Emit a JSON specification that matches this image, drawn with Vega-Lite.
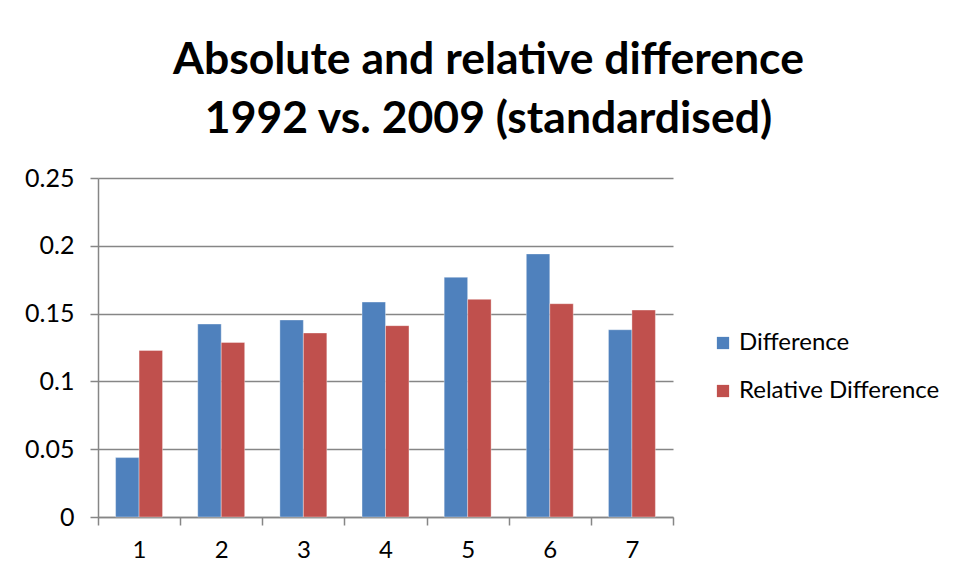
{
  "$schema": "https://vega.github.io/schema/vega-lite/v6.json",
  "width": 575,
  "height": 339,
  "autosize": {"type": "none"},
  "padding": {"left": 98, "top": 178, "right": 286, "bottom": 62},
  "background": "white",
  "title": {
    "text": ["Absolute and relative difference", "1992 vs. 2009 (standardised)"],
    "font": "Lato",
    "fontSize": 44.5,
    "fontWeight": "bold",
    "lineHeight": 59,
    "color": "black",
    "anchor": "middle",
    "dx": 103,
    "offset": 24
  },
  "data": {
    "values": [
      {"cat": "1", "series": "Difference", "value": 0.0438},
      {"cat": "1", "series": "Relative Difference", "value": 0.1228},
      {"cat": "2", "series": "Difference", "value": 0.1423},
      {"cat": "2", "series": "Relative Difference", "value": 0.1287},
      {"cat": "3", "series": "Difference", "value": 0.1453},
      {"cat": "3", "series": "Relative Difference", "value": 0.1357},
      {"cat": "4", "series": "Difference", "value": 0.1585},
      {"cat": "4", "series": "Relative Difference", "value": 0.1411},
      {"cat": "5", "series": "Difference", "value": 0.1768},
      {"cat": "5", "series": "Relative Difference", "value": 0.1605},
      {"cat": "6", "series": "Difference", "value": 0.194},
      {"cat": "6", "series": "Relative Difference", "value": 0.1573},
      {"cat": "7", "series": "Difference", "value": 0.1381},
      {"cat": "7", "series": "Relative Difference", "value": 0.1526}
    ]
  },
  "mark": {"type": "bar", "stroke": "white", "strokeOpacity": 0.35, "strokeWidth": 1},
  "encoding": {
    "x": {
      "field": "cat",
      "type": "nominal",
      "scale": {"paddingInner": 0, "paddingOuter": 0},
      "axis": {
        "title": null,
        "labelAngle": 0,
        "labelFont": "Lato",
        "labelFontSize": 24,
        "labelColor": "black",
        "labelPadding": 13,
        "tickBand": "extent",
        "tickSize": 8,
        "tickColor": "#868686",
        "domainColor": "#868686",
        "tickWidth": 1.5,
        "domainWidth": 1.5,
        "grid": false
      }
    },
    "xOffset": {
      "field": "series",
      "type": "nominal",
      "scale": {"paddingInner": 0, "paddingOuter": 0.75}
    },
    "y": {
      "field": "value",
      "type": "quantitative",
      "scale": {"domain": [0, 0.25], "nice": false},
      "axis": {
        "title": null,
        "values": [0, 0.05, 0.1, 0.15, 0.2, 0.25],
        "format": "~g",
        "labelFont": "Lato",
        "labelFontSize": 25,
        "labelColor": "black",
        "labelPadding": 16,
        "tickSize": 8,
        "tickColor": "#868686",
        "domainColor": "#868686",
        "gridColor": "#868686",
        "tickWidth": 1.5,
        "domainWidth": 1.5,
        "gridWidth": 1.5,
        "grid": true
      }
    },
    "color": {
      "field": "series",
      "type": "nominal",
      "scale": {"domain": ["Difference", "Relative Difference"], "range": ["#4F81BD", "#C0504D"]},
      "legend": {
        "title": null,
        "orient": "none",
        "legendX": 613,
        "legendY": 153,
        "symbolType": "square",
        "symbolSize": 150,
        "symbolStrokeWidth": 0,
        "labelFont": "Lato",
        "labelFontSize": 24,
        "labelColor": "black",
        "labelLimit": 400,
        "rowPadding": 24,
        "labelOffset": 4
      }
    }
  },
  "config": {"view": {"stroke": null}}
}
